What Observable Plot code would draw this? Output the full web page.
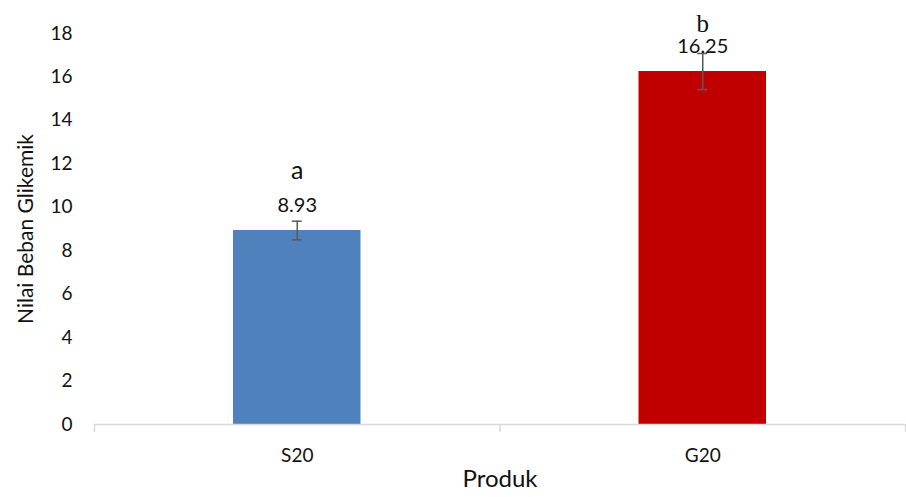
<!DOCTYPE html>
<html>
<head>
<meta charset="utf-8">
<script src="https://cdn.jsdelivr.net/npm/d3@7"></script>
<script src="https://cdn.jsdelivr.net/npm/@observablehq/plot@0.6"></script>
<style>
  body { margin: 0; background: #fff; }
  #chart svg { display: block; }
</style>
</head>
<body>
<div id="chart"></div>
<script>
// Glycemic load per product, with error and significance notation
const produk = ["S20", "G20"];
const nilai = [8.93, 16.25];
const galat = [0.43, 0.83];
const notasi = ["a", "b"];
const warna = ["#4F81BD", "#C00000"];
const yTicks = [0, 2, 4, 6, 8, 10, 12, 14, 16, 18];

const data = produk.map((p, i) => ({ p, i, v: nilai[i], e: galat[i], huruf: notasi[i] }));
const mid = d => d.i + 0.5;

const chart = Plot.plot({
  width: 906,
  height: 497,
  marginLeft: 94,
  marginRight: 1,
  marginTop: 33,
  marginBottom: 73,
  style: { fontFamily: "Lato, 'Open Sans', sans-serif", color: "#111", background: "#fff" },
  x: { domain: [0, produk.length], axis: null },
  y: { domain: [0, 18], axis: null },
  color: { domain: produk, range: warna },
  marks: [
    Plot.axisY({ ticks: yTicks, tickSize: 0, tickPadding: 22, fontSize: 19, label: null }),
    Plot.text(["Nilai Beban Glikemik"], { frameAnchor: "left", textAnchor: "middle", rotate: -90, dx: -68, fontSize: 21, fill: "#111" }),
    Plot.rectY(data, { x1: "i", x2: d => d.i + 1, y: "v", fill: "p", insetLeft: 139, insetRight: 139 }),
    Plot.ruleY([0], { stroke: "#d9d9d9", strokeWidth: 1.5 }),
    Plot.axisX({ ticks: d3.range(produk.length + 1), tickSize: 8, tickFormat: () => "", stroke: "#d9d9d9", strokeWidth: 1.5, label: null }),
    Plot.text(data, { x: mid, y: 0, text: "p", dy: 31, fontSize: 19, fill: "#111" }),
    Plot.text(["Produk"], { frameAnchor: "bottom", dy: 62, fontSize: 24, fill: "#111" }),
    // error bars
    Plot.ruleX(data, { x: mid, y1: d => d.v - d.e, y2: d => d.v + d.e, stroke: "#595959", strokeWidth: 1.5 }),
    Plot.ruleY(data, { y: d => d.v - d.e, x1: mid, x2: mid, insetLeft: -5, insetRight: -5, stroke: "#595959", strokeWidth: 1.5 }),
    Plot.ruleY(data, { y: d => d.v + d.e, x1: mid, x2: mid, insetLeft: -5, insetRight: -5, stroke: "#595959", strokeWidth: 1.5 }),
    // value labels
    Plot.text(data, { x: mid, y: "v", text: d => d.v.toFixed(2), dy: -25, fontSize: 20, fill: "#111" }),
    // significance letters
    Plot.text(data.filter(d => d.huruf === "a"), { x: mid, y: "v", text: "huruf", dy: -60, fontSize: 25, fill: "#111" }),
    Plot.text(data.filter(d => d.huruf === "b"), { x: mid, y: "v", text: "huruf", dy: -48, fontSize: 25, fontFamily: "'Liberation Serif', serif", fill: "#111" })
  ]
});

document.getElementById("chart").append(chart);
</script>
</body>
</html>
